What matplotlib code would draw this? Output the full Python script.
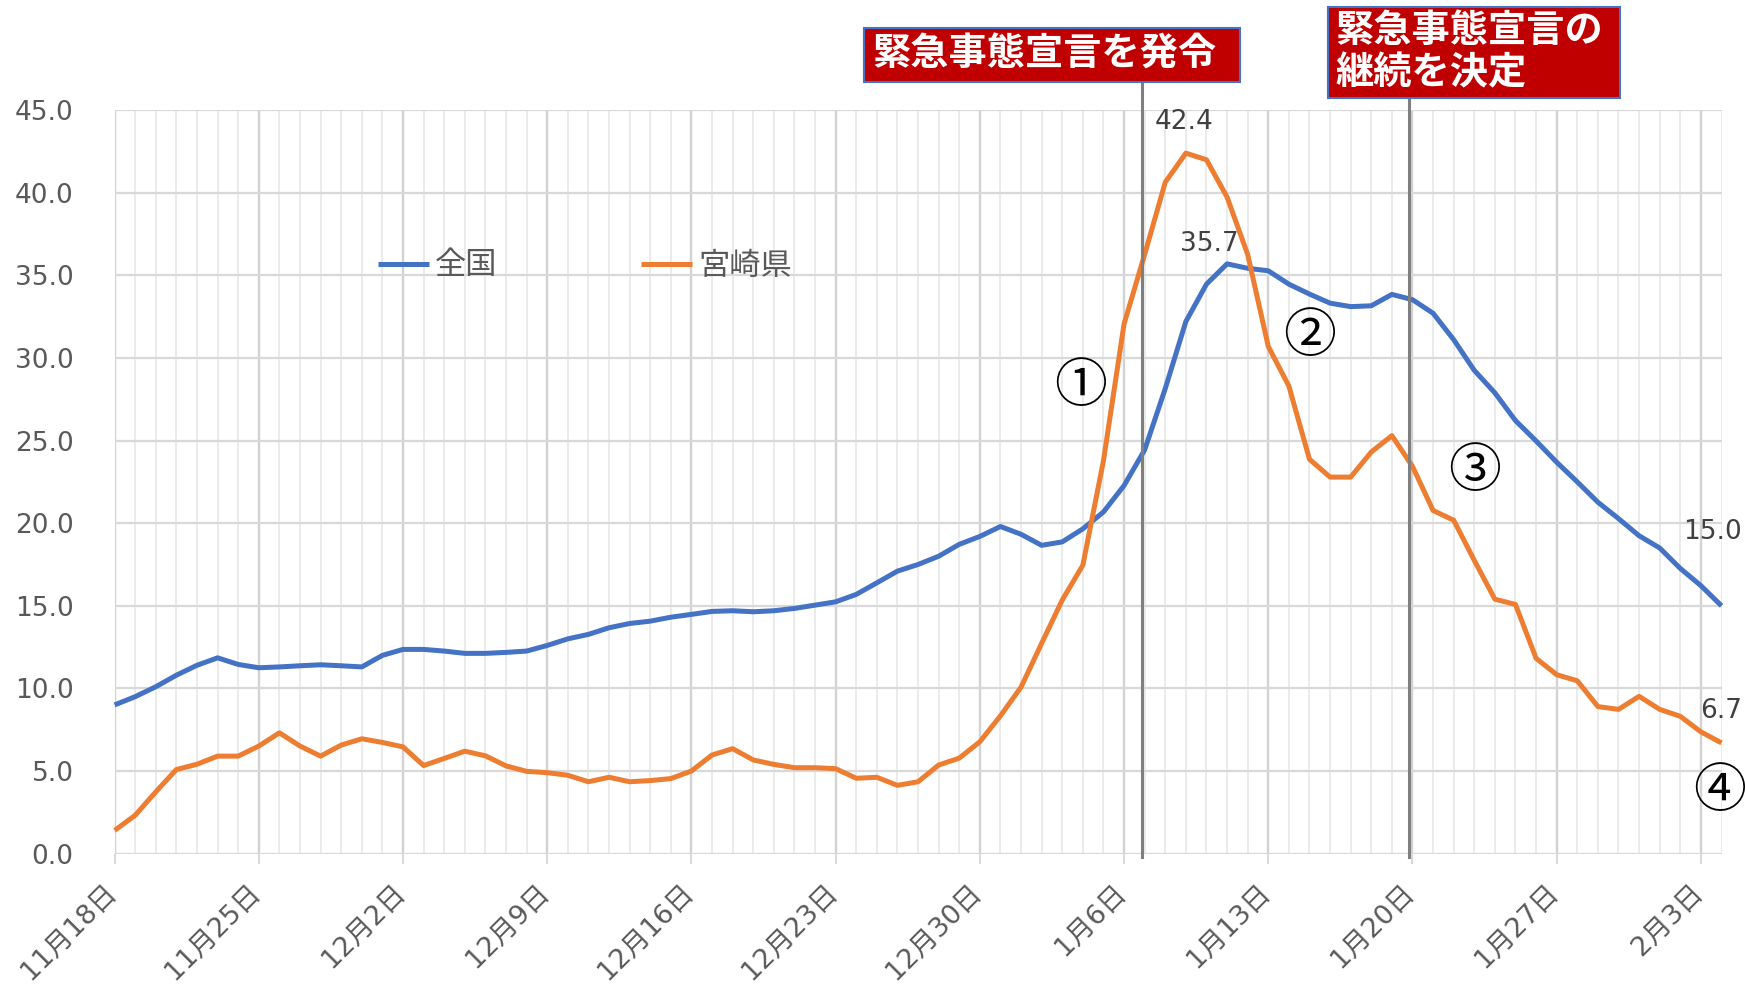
import matplotlib
matplotlib.use("Agg")
import matplotlib.pyplot as plt
from matplotlib.patches import Rectangle
from matplotlib.transforms import blended_transform_factory, ScaledTranslation

plt.rcParams['font.family'] = ['DejaVu Sans', 'Noto Sans CJK JP']

# ---------------- data ----------------
series_names = ["全国", "宮崎県"]
national = [9.0, 9.5, 10.1, 10.8, 11.4, 11.85, 11.45, 11.25, 11.3, 11.37,
            11.43, 11.37, 11.3, 12.0, 12.36, 12.36, 12.26, 12.12, 12.12, 12.18,
            12.26, 12.6, 13.0, 13.27, 13.67, 13.93, 14.07, 14.31, 14.48, 14.66,
            14.70, 14.64, 14.70, 14.84, 15.04, 15.24, 15.69, 16.39, 17.10, 17.50,
            18.0, 18.72, 19.2, 19.8, 19.33, 18.66, 18.87, 19.66, 20.68, 22.28,
            24.44, 28.15, 32.21, 34.47, 35.7, 35.43, 35.28, 34.47, 33.87, 33.32,
            33.11, 33.16, 33.85, 33.53, 32.71, 31.11, 29.25, 27.89, 26.21, 24.98,
            23.69, 22.5, 21.27, 20.28, 19.24, 18.5, 17.26, 16.22, 15.0]
miyazaki = [1.4, 2.32, 3.74, 5.09, 5.41, 5.90, 5.90, 6.51, 7.31, 6.51,
            5.90, 6.57, 6.95, 6.73, 6.46, 5.33, 5.76, 6.20, 5.92, 5.31,
            4.98, 4.9, 4.74, 4.35, 4.62, 4.35, 4.42, 4.54, 5.0, 5.97,
            6.35, 5.67, 5.40, 5.20, 5.20, 5.14, 4.56, 4.62, 4.13, 4.35,
            5.36, 5.78, 6.77, 8.34, 10.08, 12.73, 15.35, 17.46, 23.78, 32.06,
            36.27, 40.64, 42.4, 42.0, 39.74, 36.27, 30.7, 28.3, 23.87, 22.79,
            22.79, 24.31, 25.3, 23.44, 20.77, 20.18, 17.75, 15.4, 15.08, 11.82,
            10.83, 10.46, 8.9, 8.73, 9.52, 8.73, 8.31, 7.37, 6.7]
tick_days = [0, 7, 14, 21, 28, 35, 42, 49, 56, 63, 70, 77]
tick_labels = ["11月18日", "11月25日", "12月2日", "12月9日", "12月16日", "12月23日",
               "12月30日", "1月6日", "1月13日", "1月20日", "1月27日", "2月3日"]
y_ticks = [0, 5, 10, 15, 20, 25, 30, 35, 40, 45]
event_days = [49.86, 62.85]
event_texts = ["緊急事態宣言を発令", "緊急事態宣言の\n継続を決定"]
phase_marks = ["①", "②", "③", "④"]

days = list(range(len(national)))

W, H = 1745, 985
fig = plt.figure(figsize=(W / 100, H / 100), dpi=100)
fig.patch.set_facecolor('white')
ax = fig.add_axes([114.6 / W, 1 - 853.6 / H, (1721.5 - 114.6) / W, (853.6 - 110.2) / H])

ax.set_xlim(0, len(national) - 1)
ax.set_ylim(0, 45)

for s in ax.spines.values():
    s.set_visible(False)

ax.set_xticks(tick_days)
ax.set_xticks(days, minor=True)
ax.set_xticklabels(tick_labels, rotation=45, ha='right', va='center',
                   rotation_mode='anchor', fontsize=19.5, color='#595959')
ax.set_yticks(y_ticks)
ax.set_yticklabels([f"{v:.1f}" for v in y_ticks], fontsize=19, color='#595959')
ax.tick_params(axis='x', which='major', length=7, width=1.5, color='#D9D9D9', pad=18)
ax.tick_params(axis='x', which='minor', length=0)
ax.tick_params(axis='y', length=0, pad=29.5)

offs = ScaledTranslation(-2 / 100, 0, fig.dpi_scale_trans)
for lab in ax.get_xticklabels():
    lab.set_transform(lab.get_transform() + offs)

ax.grid(which='minor', axis='x', color='#E9E9E9', lw=1.3, zorder=0)
ax.grid(which='major', axis='x', color='#D2D2D2', lw=1.7, zorder=0)
ax.grid(which='major', axis='y', color='#D9D9D9', lw=1.6, zorder=0)
ax.set_axisbelow(True)

colors = ['#4472C4', '#ED7D31']
for vals, name, c in zip([national, miyazaki], series_names, colors):
    ax.plot(days, vals, color=c, lw=3.6, label=name, solid_joinstyle='round',
            solid_capstyle='butt', clip_on=False, zorder=3)

leg = ax.legend(loc='center left', bbox_to_anchor=(378 / W, 1 - 266 / H),
                bbox_transform=fig.transFigure, ncol=2, frameon=False, fontsize=22.5,
                handlelength=1.63, handletextpad=0.2, columnspacing=4.6,
                borderpad=0, borderaxespad=0, labelcolor='#595959')

# data labels
lab_kw = dict(textcoords='offset pixels', ha='center', va='center', fontsize=19,
              color='#404040', annotation_clip=False)
ax.annotate(f"{miyazaki[52]:.1f}", xy=(52, miyazaki[52]), xytext=(-2, 31), **lab_kw)
ax.annotate(f"{national[54]:.1f}", xy=(54, national[54]), xytext=(-18, 20), **lab_kw)
ax.annotate(f"{national[-1]:.1f}", xy=(days[-1], national[-1]), xytext=(-9.5, 74), **lab_kw)
ax.annotate(f"{miyazaki[-1]:.1f}", xy=(days[-1], miyazaki[-1]), xytext=(0, 32), **lab_kw)

# phase marks
phase_pos = [(46.9, 28.3), (58.0, 31.3), (66.0, 23.1), (77.9, 3.73)]
for m, (px, py) in zip(phase_marks, phase_pos):
    ax.text(px, py, m, fontsize=38, family=['Noto Sans CJK JP'], color='black',
            ha='center', va='center', clip_on=False, zorder=4)

# event lines
trans = blended_transform_factory(ax.transData, ax.transAxes)
tops = [(853.6 - 81.7) / 743.4, (853.6 - 98.3) / 743.4]
for d, t in zip(event_days, tops):
    ax.plot([d, d], [-0.004, t], transform=trans, color='#7F7F7F', lw=2.2,
            clip_on=False, zorder=5)

# event boxes
boxes = [(863.8, 27.7, 1239.7, 81.7), (1328, 6.7, 1619.6, 98.3)]
text_x = [872, 1335]
for (x0, y0, x1, y1), tx, txt in zip(boxes, text_x, event_texts):
    fig.add_artist(Rectangle((x0 / W, 1 - y1 / H), (x1 - x0) / W, (y1 - y0) / H,
                             transform=fig.transFigure, facecolor='#C00000',
                             edgecolor='#4472C4', lw=1.5))
    fig.text(tx / W, 1 - ((y0 + y1) / 2 - 1) / H, txt, ha='left', va='center',
             color='white', fontsize=27.5, fontweight='bold',
             family=['Noto Sans CJK JP'], linespacing=1.1)

fig.savefig('out.png', dpi=100, facecolor='white')
